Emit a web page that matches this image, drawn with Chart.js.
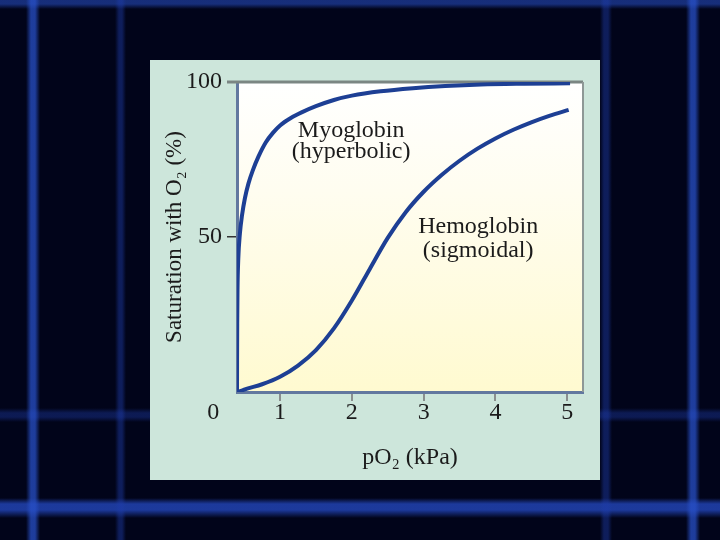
<!DOCTYPE html>
<html>
<head>
<meta charset="utf-8">
<script src="https://cdn.jsdelivr.net/npm/chart.js@4/dist/chart.umd.min.js"></script>
<style>
  html, body { margin: 0; padding: 0; }
  body {
    width: 720px; height: 540px; overflow: hidden; position: relative;
    background-color: #01041a;
  }
  .bg { position: absolute; left: 0; top: 0; width: 720px; height: 540px;
    background:
      linear-gradient(90deg, transparent 26px, rgba(40,80,200,0.75) 31px, rgba(40,80,200,0.75) 35px, transparent 40px),
      linear-gradient(90deg, transparent 115px, rgba(30,60,170,0.45) 119px, rgba(30,60,170,0.45) 122px, transparent 126px),
      linear-gradient(90deg, transparent 600px, rgba(30,60,170,0.45) 604px, rgba(30,60,170,0.45) 608px, transparent 612px),
      linear-gradient(90deg, transparent 686px, rgba(40,80,200,0.75) 691px, rgba(40,80,200,0.75) 695px, transparent 700px),
      linear-gradient(180deg, rgba(40,80,200,0.55) 0px, rgba(40,80,200,0.55) 4px, transparent 9px),
      linear-gradient(180deg, transparent 408px, rgba(30,60,170,0.4) 413px, rgba(30,60,170,0.4) 417px, transparent 422px),
      linear-gradient(180deg, transparent 498px, rgba(40,80,210,0.7) 504px, rgba(40,80,210,0.7) 510px, transparent 518px),
      #01041a;
  }
  .panel { position: absolute; left: 150px; top: 60px; width: 450px; height: 420px; background: #cde6db; }
  canvas { display: block; }
</style>
</head>
<body>
<div class="bg"></div>
<div class="panel"><canvas id="c" width="450" height="420"></canvas></div>
<script>
// ---- data ----
const myoglobinX = [0.40, 0.401, 0.403, 0.407, 0.418, 0.44, 0.47, 0.51, 0.56, 0.62, 0.70, 0.80, 0.90, 1.00, 1.15, 1.30, 1.50, 1.75, 2.00, 2.40, 2.85, 3.30, 3.80, 4.40, 5.04];
const myoglobinY = [0, 10, 22, 33, 43, 51, 57, 62.5, 67.3, 71.5, 76, 80.5, 83.6, 86, 88.4, 90.2, 92.2, 94.2, 95.6, 97, 98, 98.7, 99.2, 99.45, 99.6];
const hemoglobinX = [0.42, 0.50, 0.75, 1.00, 1.25, 1.50, 1.75, 2.00, 2.25, 2.50, 2.75, 3.00, 3.25, 3.50, 3.75, 4.00, 4.25, 4.50, 4.75, 5.02];
const hemoglobinY = [0, 0.8, 2.5, 4.9, 8.5, 13.5, 20.5, 29.5, 39.7, 49.7, 58.0, 64.6, 70.0, 74.6, 78.5, 81.8, 84.6, 87.0, 89.1, 91.0];
const xTickValues = [1, 2, 3, 4, 5];
const yTickValues = [50, 100];
const curveNames = ['Myoglobin', '(hyperbolic)', 'Hemoglobin', '(sigmoidal)'];
const noteX = [1.99, 1.99, 3.76, 3.76];
const noteY = [82.4, 75.4, 51.2, 43.6];
const xTitle = 'pO₂ (kPa)';
const yTitle = 'Saturation with O₂ (%)';

const toPoints = (xs, ys) => xs.map((x, i) => ({ x: x, y: ys[i] }));
const SERIF = '"Liberation Serif", "DejaVu Serif", serif';

const plotDecor = {
  id: 'plotDecor',
  beforeDraw(chart) {
    const { ctx, chartArea: a } = chart;
    const g = ctx.createLinearGradient(0, a.top, 0, a.bottom);
    g.addColorStop(0, '#ffffff');
    g.addColorStop(0.35, '#fffdf0');
    g.addColorStop(1, '#fffad0');
    ctx.save();
    ctx.fillStyle = g;
    ctx.fillRect(a.left, a.top, a.right - a.left, a.bottom - a.top);
    ctx.restore();
  },
  beforeDatasetsDraw(chart) {
    const { ctx, chartArea: a } = chart;
    ctx.save();
    ctx.strokeStyle = '#7b8683';
    ctx.lineWidth = 3;
    ctx.beginPath();
    ctx.moveTo(a.left - 10, a.top);
    ctx.lineTo(a.right, a.top);
    ctx.stroke();
    ctx.strokeStyle = '#8e9896';
    ctx.lineWidth = 2;
    ctx.beginPath();
    ctx.moveTo(a.right, a.top);
    ctx.lineTo(a.right, a.bottom);
    ctx.stroke();
    ctx.restore();
  },
  afterDraw(chart) {
    const { ctx, chartArea: a, scales } = chart;
    ctx.save();
    ctx.fillStyle = '#1b1b1b';
    ctx.textAlign = 'center';
    ctx.textBaseline = 'alphabetic';
    ctx.font = '24px ' + SERIF;
    curveNames.forEach((t, i) => {
      ctx.fillText(t, scales.x.getPixelForValue(noteX[i]), scales.y.getPixelForValue(noteY[i]));
    });
    // shared origin label
    ctx.textBaseline = 'middle';
    ctx.fillText('0', scales.x.getPixelForValue(0.07), a.bottom + 21);
    ctx.restore();
  }
};

new Chart(document.getElementById('c'), {
  type: 'scatter',
  data: {
    datasets: [
      { label: 'Myoglobin', data: toPoints(myoglobinX, myoglobinY), showLine: true,
        borderColor: '#1d3f94', borderWidth: 4, pointRadius: 0, cubicInterpolationMode: 'monotone' },
      { label: 'Hemoglobin', data: toPoints(hemoglobinX, hemoglobinY), showLine: true,
        borderColor: '#1d3f94', borderWidth: 4, pointRadius: 0, cubicInterpolationMode: 'monotone' }
    ]
  },
  options: {
    responsive: false,
    animation: false,
    layout: { padding: { top: 22, right: 17, left: 0, bottom: 0 } },
    plugins: { legend: { display: false }, tooltip: { enabled: false } },
    scales: {
      x: {
        type: 'linear', min: 0.4, max: 5.22,
        afterBuildTicks: s => { s.ticks = xTickValues.map(v => ({ value: v })); },
        afterFit: s => { s.height = 88; },
        border: { display: true, color: '#62789f', width: 3 },
        grid: { drawOnChartArea: false, drawTicks: true, tickLength: 9, color: '#8a8f8e', lineWidth: 2 },
        ticks: { color: '#1b1b1b', padding: 0, font: { family: SERIF, size: 24, lineHeight: 1 }, maxRotation: 0 },
        title: { display: true, text: xTitle, color: '#1b1b1b', font: { family: SERIF, size: 24, lineHeight: 1.2 }, padding: { top: 0, bottom: 8 } }
      },
      y: {
        type: 'linear', min: 0, max: 100,
        afterBuildTicks: s => { s.ticks = yTickValues.map(v => ({ value: v })); },
        afterFit: s => { s.width = 87; },
        border: { display: true, color: '#62789f', width: 3 },
        grid: { drawOnChartArea: false, drawTicks: true, tickLength: 10, color: '#333333', lineWidth: 1.5 },
        ticks: { color: '#1b1b1b', padding: 5, font: { family: SERIF, size: 24 } },
        title: { display: true, text: yTitle, color: '#1b1b1b', font: { family: SERIF, size: 23, lineHeight: 1.2 }, padding: { top: 11, bottom: 0 } }
      }
    }
  },
  plugins: [plotDecor]
});
</script>
</body>
</html>
